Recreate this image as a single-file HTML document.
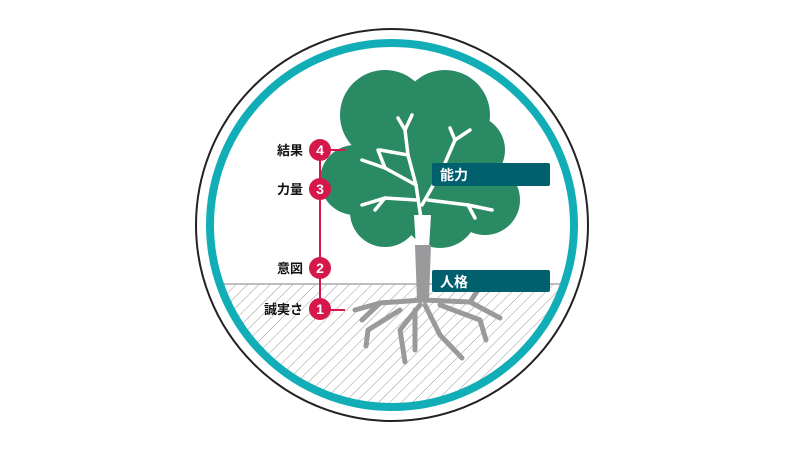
<!DOCTYPE html>
<html><head><meta charset="utf-8"><style>
html,body{margin:0;padding:0;background:#fff;width:785px;height:450px;overflow:hidden}
text{font-family:"Liberation Sans","Noto Sans CJK JP",sans-serif;font-weight:bold}
</style></head><body>
<svg width="785" height="450" viewBox="0 0 785 450" xmlns="http://www.w3.org/2000/svg">
<defs>
<pattern id="h" width="8" height="8" patternUnits="userSpaceOnUse" patternTransform="rotate(45)">
<line x1="0" y1="0" x2="0" y2="8" stroke="#999" stroke-width="1"/></pattern>
<clipPath id="c"><circle cx="392" cy="225" r="180"/></clipPath>
</defs>
<circle cx="392" cy="225" r="196" fill="#fff" stroke="#222" stroke-width="2"/>
<g clip-path="url(#c)">
<rect x="180" y="284" width="430" height="160" fill="url(#h)"/>
<line x1="180" y1="284" x2="610" y2="284" stroke="#aaa" stroke-width="1.5"/>
</g>
<circle cx="392" cy="225" r="182" fill="none" stroke="#12aeb8" stroke-width="8"/>
<g fill="#2a8a64">
<circle cx="385" cy="115" r="45"/><circle cx="445" cy="115" r="45"/>
<circle cx="470" cy="150" r="35"/><circle cx="485" cy="200" r="35"/>
<circle cx="355" cy="180" r="35"/><circle cx="385" cy="212" r="35"/>
<circle cx="440" cy="210" r="38"/><circle cx="420" cy="160" r="55"/>
</g>
<g stroke="#fff" stroke-width="3.5" fill="none" stroke-linecap="round" stroke-linejoin="round">
<path d="M422 225 L416 185 L408 155 L405 130 L398 118"/><path d="M405 130 L412 115"/>
<path d="M416 185 L385 168 L362 160"/><path d="M385 168 L378 150"/>
<path d="M408 155 L380 150"/><path d="M422 205 L442 170 L455 140 L450 128"/>
<path d="M455 140 L470 130"/>
<path d="M442 170 L470 178 L482 172"/><path d="M416 200 L385 198 L362 205"/><path d="M385 198 L375 210"/>
<path d="M428 200 L468 205 L492 210"/><path d="M468 205 L475 218"/>
</g>
<path d="M414 215 L431 215 L429 248 L416 248 Z" fill="#fff"/>
<path d="M415 245 L431 245 L429 300 L417 300 Z" fill="#9a9a9c"/>
<g stroke="#9a9a9c" stroke-width="5" fill="none" stroke-linecap="round" stroke-linejoin="round">
<path d="M423 300 L380 303 L355 310"/><path d="M423 300 L470 302 L500 318"/>
<path d="M420 305 L400 330 L405 362"/><path d="M425 305 L440 335 L462 358"/>
<path d="M400 310 L368 330 L366 346"/><path d="M440 305 L480 320 L486 340"/>
<path d="M415 310 L415 350"/><path d="M380 303 L362 320"/><path d="M470 302 L478 290"/>
</g>
<rect x="432" y="163" width="118" height="23" rx="2" fill="#00606e"/>
<text x="440" y="180" fill="#fff" font-size="14">能力</text>
<rect x="432" y="270" width="118" height="22" rx="2" fill="#00606e"/>
<text x="440" y="287" fill="#fff" font-size="14">人格</text>
<g stroke="#d6174a" stroke-width="2"><line x1="320" y1="150" x2="320" y2="308"/>
<line x1="320" y1="150" x2="345" y2="150"/><line x1="320" y1="310" x2="345" y2="310"/></g>
<g fill="#d6174a"><circle cx="320" cy="150" r="11"/><circle cx="320" cy="189" r="11"/>
<circle cx="320" cy="268" r="11"/><circle cx="320" cy="309" r="11"/></g>
<g fill="#fff" font-size="14" text-anchor="middle" style="font-weight:normal">
<text x="320" y="155">4</text><text x="320" y="194">3</text><text x="320" y="273">2</text><text x="320" y="314">1</text></g>
<g fill="#111" font-size="13" text-anchor="end">
<text x="303" y="155">結果</text><text x="303" y="194">力量</text>
<text x="303" y="273">意図</text><text x="303" y="314">誠実さ</text></g>
</svg>
</body></html>
